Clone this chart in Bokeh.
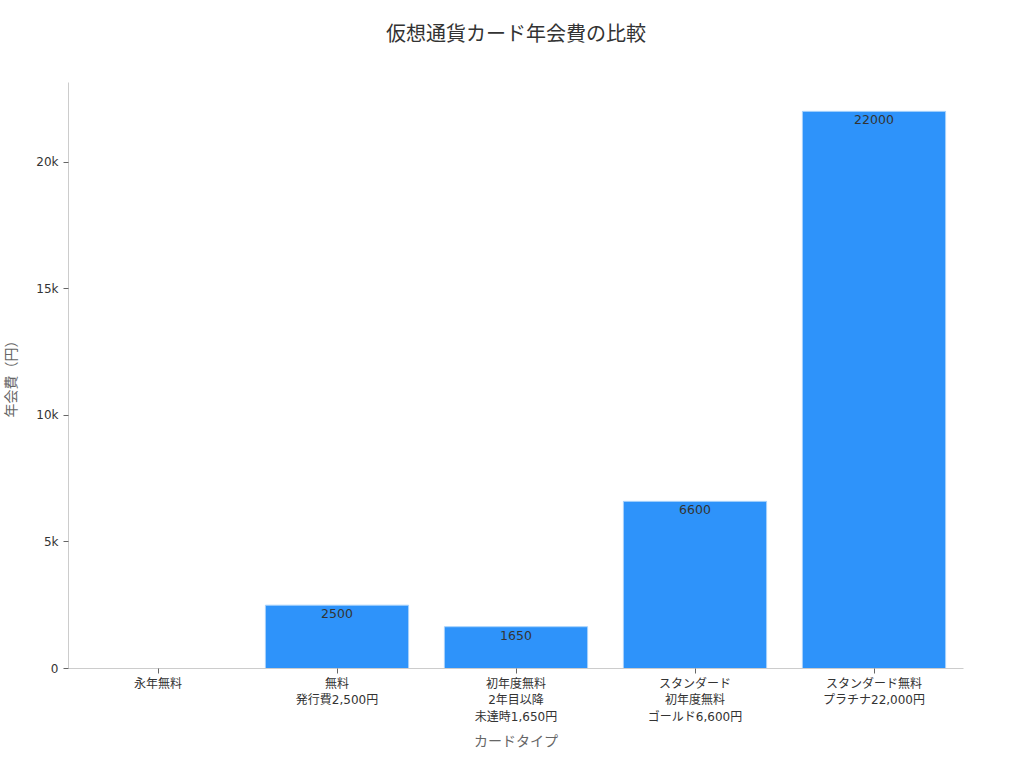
from bokeh.plotting import figure
from bokeh.models import ColumnDataSource, Range1d, FixedTicker, CustomJSTickFormatter, Title
from bokeh.core.properties import value
from bokeh.embed import file_html
from bokeh.resources import INLINE

categories = ["永年無料", "無料\n発行費2,500円", "初年度無料\n2年目以降\n未達時1,650円",
              "スタンダード\n初年度無料\nゴールド6,600円", "スタンダード無料\nプラチナ22,000円"]
fees = [0, 2500, 1650, 6600, 22000]
y_ticks = [0, 5000, 10000, 15000, 20000]

FONT = "DejaVu Sans, Noto Sans CJK JP"

p = figure(x_range=categories, y_range=Range1d(0, 23140), width=1008, height=752,
           output_backend="svg", toolbar_location=None,
           title="仮想通貨カード年会費の比較",
           min_border_left=59, min_border_right=45, min_border_top=0, min_border_bottom=20)

src = ColumnDataSource(dict(cat=categories, fee=fees))
p.vbar(x="cat", top="fee", width=0.8, source=src, fill_color="#2E93FA",
       line_color="#a8d2fb", line_width=1)

lab_cats = [c for c, f in zip(categories, fees) if f > 0]
lab_vals = [f for f in fees if f > 0]
lsrc = ColumnDataSource(dict(cat=lab_cats, fee=lab_vals, txt=[str(v) for v in lab_vals]))
p.text(x="cat", y="fee", text="txt", source=lsrc, text_align="center", text_baseline="top",
       y_offset=4, text_font_size="12.5px", text_color="#333333", text_font=value(FONT))

p.title.align = "center"
p.title.text_font = FONT
p.title.text_font_size = "20px"
p.title.text_font_style = "normal"
p.title.text_color = "#333333"
p.title.standoff = 38

spacer = Title(text=" ", text_font_size="2px", standoff=14)
p.add_layout(spacer, "above")

p.xgrid.grid_line_color = None
p.ygrid.grid_line_color = None
p.outline_line_color = None

p.yaxis.ticker = FixedTicker(ticks=y_ticks)
p.yaxis.formatter = CustomJSTickFormatter(code="return tick == 0 ? '0' : (tick/1000) + 'k';")
p.yaxis.axis_label = "年会費（円）"
p.xaxis.axis_label = "カードタイプ"

for ax in (p.xaxis, p.yaxis):
    ax.axis_line_color = "#cccccc"
    ax.major_tick_line_color = "#666666"
    ax.minor_tick_line_color = None
    ax.major_tick_in = 0
    ax.major_tick_out = 5
    ax.major_label_text_font = FONT
    ax.major_label_text_font_size = "12px"
    ax.major_label_text_color = "#333333"
    ax.axis_label_text_font = FONT
    ax.axis_label_text_font_size = "14px"
    ax.axis_label_text_font_style = "normal"
    ax.axis_label_text_color = "#666666"

p.xaxis.major_label_standoff = 3
p.xaxis.axis_label_standoff = 6
p.yaxis.axis_label_standoff = 14

open("out.html", "w").write(file_html(p, INLINE))
